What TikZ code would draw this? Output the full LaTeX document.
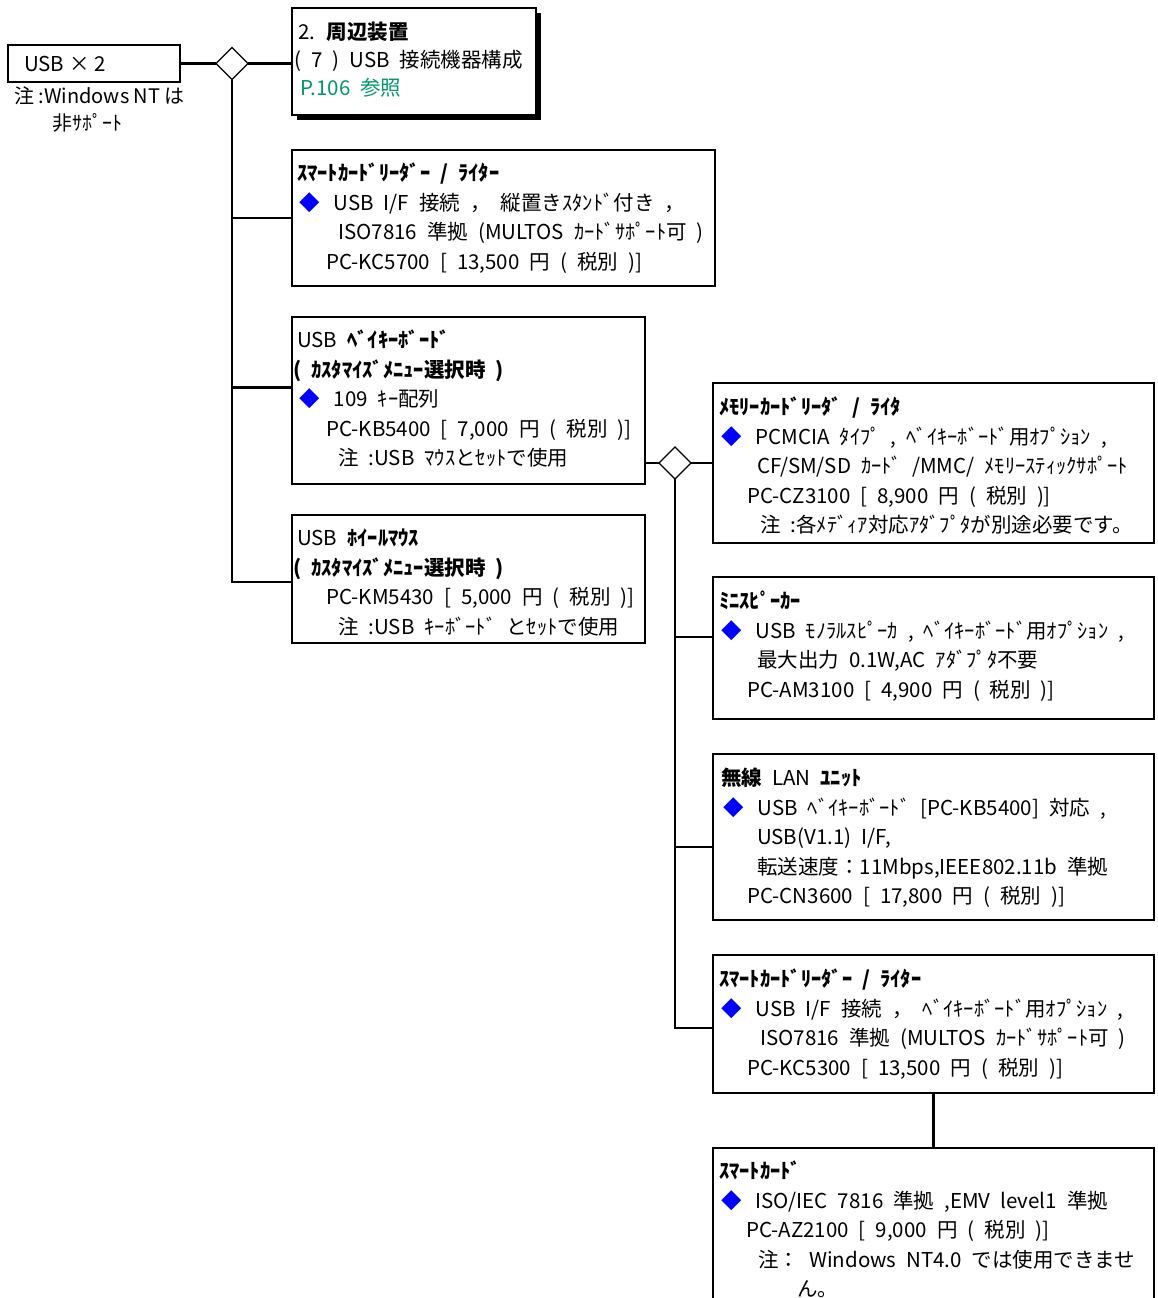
\documentclass[tikz,border=0pt]{standalone}
\usepackage{fontspec}
\newfontfamily\jp{Noto Sans CJK JP}
\usetikzlibrary{shapes.geometric,shadows}
\definecolor{refgreen}{RGB}{0,153,102}
\definecolor{bulletblue}{RGB}{0,0,255}
\newcommand\bl{\hspace*{2pt}{\color{bulletblue}◆}\hspace*{14pt}}
\newcommand\ind[1]{\hspace*{#1pt}}
\newcommand\wsp{\spaceskip 10pt plus 0pt minus 0pt\relax}
\newcommand\boxfont{\jp\fontsize{20.5}{29.5}\selectfont\wsp}
\newcommand\topfont{\jp\fontsize{20.5}{28}\selectfont\wsp}
\newcommand\plainfont{\jp\fontsize{20.5}{29.5}\selectfont}
\newcommand\notefont{\jp\fontsize{20}{27}\selectfont}
\begin{document}
\begin{tikzpicture}[x=1pt,y=-1pt,
  box/.style={draw, line width=2.6pt, fill=white, rectangle, anchor=north west, inner sep=0pt, outer sep=0pt},
  conn/.style={line width=2.6pt},
  dia/.style={draw, diamond, line width=1.3pt, fill=white, minimum width=32pt, minimum height=32pt, inner sep=0pt, outer sep=0pt},
  txt/.style={anchor=north west, inner sep=0pt, align=left, font=\boxfont},
]
\path[use as bounding box, clip] (0,0) rectangle (1157,1298);

% boxes
\node[box, minimum width=172pt, minimum height=37pt] (usb) at (8,45) {};
\node[box, minimum width=244pt, minimum height=107pt, drop shadow={shadow xshift=5pt, shadow yshift=-5pt, fill=black, opacity=1}] (top) at (292,8) {};
\node[box, minimum width=423pt, minimum height=136pt] (b2) at (292,150) {};
\node[box, minimum width=353pt, minimum height=167pt] (b3) at (292,317) {};
\node[box, minimum width=353pt, minimum height=128pt] (b4) at (292,515) {};
\node[box, minimum width=441pt, minimum height=160pt] (b5) at (713,383) {};
\node[box, minimum width=441pt, minimum height=142pt] (b6) at (713,577) {};
\node[box, minimum width=441pt, minimum height=166pt] (b7) at (713,754) {};
\node[box, minimum width=441pt, minimum height=138pt] (b8) at (713,955) {};
\node[box, minimum width=441pt, minimum height=170pt] (b9) at (713,1148) {};

% diamonds
\node[dia] (d1) at (232,63.5) {};
\node[dia] (d2) at (675,463) {};

% junction coordinates
\coordinate (j3) at ([yshift=13pt]b3.west);
\coordinate (j4) at ([yshift=-3pt]b4.west);
\coordinate (j6) at ([yshift=11pt]b6.west);
\coordinate (j7) at ([yshift=-10pt]b7.west);
\coordinate (j8) at ([yshift=-4pt]b8.west);

% connectors
\draw[conn] (usb.east) -- (d1.west);
\draw[conn] (d1.east) -- (d1.east -| top.west);
\draw[conn] (d1.south) |- (j4);
\draw[conn] (d1.south |- b2.west) -- (b2.west);
\draw[conn] (j3 -| d1.south) -- (j3);
\draw[conn] (d2.west) -- (d2.west -| b3.east);
\draw[conn] (d2.east) -- (b5.west);
\draw[conn] (d2.south) |- (j8);
\draw[conn] (j6 -| d2.south) -- (j6);
\draw[conn] (j7 -| d2.south) -- (j7);
\draw[conn] (b8.south) -- (b8.south |- b9.north);

% texts
\node[txt, anchor=west, font=\plainfont] (tusb) at ([xshift=16pt]usb.west) {USB × 2};
\node[txt, anchor=north west, font=\notefont] (note) at (14,84) {\strut 注 :Windows NT は\\\strut\ind{38}非ｻﾎﾟｰﾄ};

\node[txt, font=\topfont] (ttop) at ([xshift=6pt,yshift=-12pt]top.north west)
 {\strut 2. {\bfseries 周辺装置}\\
  \strut\ind{-4}( 7 ) USB 接続機器構成\\
  \strut\ind{2}{\color{refgreen}P.106 参照}};

\node[txt] (t2) at ([xshift=5pt,yshift=-10pt]b2.north west)
 {\strut{\bfseries ｽﾏｰﾄｶｰﾄﾞﾘｰﾀﾞｰ / ﾗｲﾀｰ}\\
  \strut\bl USB I/F 接続 ， 縦置きｽﾀﾝﾄﾞ付き ，\\
  \strut\ind{41}ISO7816 準拠 (MULTOS ｶｰﾄﾞｻﾎﾟｰﾄ可 )\\
  \strut\ind{29}PC-KC5700 [ 13,500 円 ( 税別 )]};

\node[txt] (t3) at ([xshift=5pt,yshift=-10pt]b3.north west)
 {\strut USB {\bfseries ﾍﾞｲｷｰﾎﾞｰﾄﾞ}\\
  \strut\ind{-4}{\bfseries ( ｶｽﾀﾏｲｽﾞﾒﾆｭｰ選択時 )}\\
  \strut\bl 109 ｷｰ配列\\
  \strut\ind{29}PC-KB5400 [ 7,000 円 ( 税別 )]\\
  \strut\ind{41}注 :USB ﾏｳｽとｾｯﾄで使用};

\node[txt] (t4) at ([xshift=5pt,yshift=-10pt]b4.north west)
 {\strut USB {\bfseries ﾎｲｰﾙﾏｳｽ}\\
  \strut\ind{-4}{\bfseries ( ｶｽﾀﾏｲｽﾞﾒﾆｭｰ選択時 )}\\
  \strut\ind{29}PC-KM5430 [ 5,000 円 ( 税別 )]\\
  \strut\ind{41}注 :USB ｷｰﾎﾞｰﾄﾞ とｾｯﾄで使用};

\node[txt] (t5) at ([xshift=6pt,yshift=-11pt]b5.north west)
 {\strut{\bfseries ﾒﾓﾘｰｶｰﾄﾞﾘｰﾀﾞ / ﾗｲﾀ}\\
  \strut\bl PCMCIA ﾀｲﾌﾟ , ﾍﾞｲｷｰﾎﾞｰﾄﾞ用ｵﾌﾟｼｮﾝ ,\\
  \strut\ind{38}CF/SM/SD ｶｰﾄﾞ /MMC/ ﾒﾓﾘｰｽﾃｨｯｸｻﾎﾟｰﾄ\\
  \strut\ind{28}PC-CZ3100 [ 8,900 円 ( 税別 )]\\
  \strut\ind{41}注 :各ﾒﾃﾞｨｱ対応ｱﾀﾞﾌﾟﾀが別途必要です。};

\node[txt] (t6) at ([xshift=6pt,yshift=-11pt]b6.north west)
 {\strut{\bfseries ﾐﾆｽﾋﾟｰｶｰ}\\
  \strut\bl USB ﾓﾉﾗﾙｽﾋﾟｰｶ , ﾍﾞｲｷｰﾎﾞｰﾄﾞ用ｵﾌﾟｼｮﾝ ,\\
  \strut\ind{38}最大出力 0.1W,AC ｱﾀﾞﾌﾟﾀ不要\\
  \strut\ind{28}PC-AM3100 [ 4,900 円 ( 税別 )]};

\node[txt] (t7) at ([xshift=8pt,yshift=-11pt]b7.north west)
 {\strut{\bfseries 無線} LAN {\bfseries ﾕﾆｯﾄ}\\
  \strut\bl USB ﾍﾞｲｷｰﾎﾞｰﾄﾞ [PC-KB5400] 対応 ,\\
  \strut\ind{36}USB(V1.1) I/F,\\
  \strut\ind{36}転送速度：11Mbps,IEEE802.11b 準拠\\
  \strut\ind{26}PC-CN3600 [ 17,800 円 ( 税別 )]};

\node[txt] (t8) at ([xshift=6pt,yshift=-11pt]b8.north west)
 {\strut{\bfseries ｽﾏｰﾄｶｰﾄﾞﾘｰﾀﾞｰ / ﾗｲﾀｰ}\\
  \strut\bl USB I/F 接続 ， ﾍﾞｲｷｰﾎﾞｰﾄﾞ用ｵﾌﾟｼｮﾝ ,\\
  \strut\ind{41}ISO7816 準拠 (MULTOS ｶｰﾄﾞｻﾎﾟｰﾄ可 )\\
  \strut\ind{28}PC-KC5300 [ 13,500 円 ( 税別 )]};

\node[txt] (t9) at ([xshift=6pt,yshift=-10pt]b9.north west)
 {\strut{\bfseries ｽﾏｰﾄｶｰﾄﾞ}\\
  \strut\bl ISO/IEC 7816 準拠 ,EMV level1 準拠\\
  \strut\ind{27}PC-AZ2100 [ 9,000 円 ( 税別 )]\\
  \strut\ind{39}注： Windows NT4.0 では使用できませ\\
  \strut\ind{78}ん。};
\end{tikzpicture}
\end{document}
